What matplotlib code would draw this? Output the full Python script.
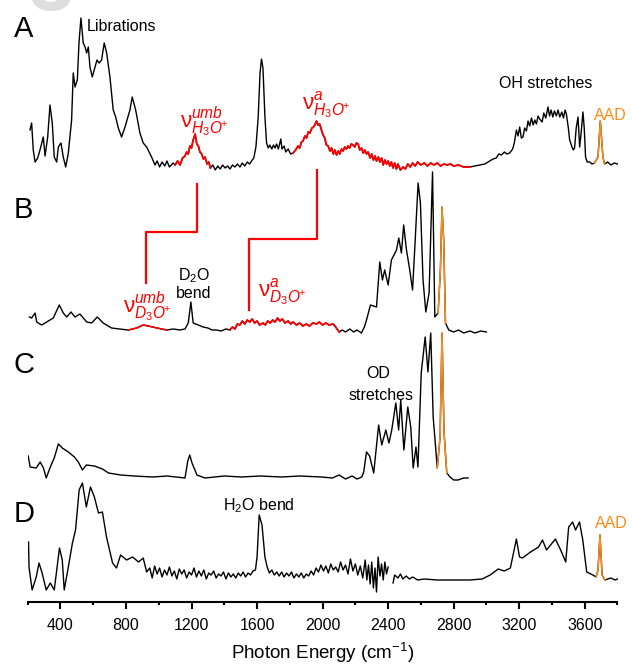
import numpy as np
import matplotlib
matplotlib.use('Agg')
import matplotlib.pyplot as plt

plt.rcParams['font.family'] = ['Liberation Sans', 'DejaVu Sans']
plt.rcParams['mathtext.fontset'] = 'custom'
plt.rcParams['mathtext.rm'] = 'Liberation Sans'
plt.rcParams['mathtext.it'] = 'Liberation Sans:italic'
plt.rcParams['mathtext.bf'] = 'Liberation Sans:bold'

# --- spectra, intensity in arbitrary units ---
a_x = [214, 224, 234, 245, 261, 275, 295, 306, 322, 336, 350, 362, 377, 387, 403, 417,
       432, 448, 468, 478, 489, 503, 513, 525, 539, 550, 560, 570, 580, 594, 611, 623,
       635, 651, 667, 682, 702, 722, 737, 753, 773, 794, 824, 838, 859, 885, 905, 926,
       956, 977, 990, 1005, 1020, 1037, 1050, 1065, 1088,
       1100, 1115, 1130, 1145, 1160, 1170, 1180, 1190, 1200, 1210, 1222, 1232, 1242, 1251,
       1262, 1272, 1282, 1295, 1305, 1315, 1330, 1345, 1360, 1375, 1390, 1405, 1420, 1435,
       1450, 1465, 1480, 1495, 1510, 1525, 1540, 1555, 1566, 1580, 1593, 1607, 1618, 1627,
       1636, 1648, 1658, 1668, 1678, 1690, 1700, 1710, 1719, 1730, 1745, 1752, 1765, 1775,
       1790, 1805, 1820,
       1835, 1850, 1860, 1871, 1880, 1892, 1902, 1912, 1922, 1935, 1945, 1955, 1963, 1972,
       1982, 1993, 2003, 2013, 2023, 2034, 2045, 2055, 2065, 2075, 2085, 2095, 2105, 2115,
       2125, 2135, 2145, 2155, 2165, 2175, 2186, 2196, 2206, 2217, 2227, 2238, 2248, 2258,
       2268, 2278, 2290, 2300, 2310, 2320, 2329, 2340, 2350, 2360, 2370, 2380, 2390, 2400,
       2410, 2420, 2430, 2440, 2450, 2460, 2475, 2491, 2505, 2520, 2535, 2550, 2565, 2580,
       2600, 2620, 2640, 2660, 2680, 2700, 2720, 2740, 2760, 2780, 2800, 2830, 2860, 2898,
       2930, 2960, 2990, 3020, 3040, 3060, 3075, 3091, 3110, 3125, 3142, 3160, 3170, 3183,
       3193, 3203, 3213, 3223, 3233, 3244, 3254, 3264, 3275, 3285, 3295, 3305, 3315, 3325,
       3340, 3350, 3362, 3376, 3385, 3395, 3405, 3415, 3427, 3437, 3448, 3460, 3470, 3480,
       3488, 3500, 3508, 3520, 3530, 3538, 3548, 3559, 3565, 3569, 3578, 3589, 3597, 3605,
       3615, 3630, 3645, 3660, 3681, 3695, 3711, 3721, 3740, 3760, 3780, 3800]
a_y = [38, 45, 18, 6, 10, 18, 31, 12, 31, 63, 45, 11, 6, 21, 25, 11,
       1, 15, 48, 95, 81, 88, 125, 150, 125, 121, 115, 121, 101, 91, 101, 108,
       105, 108, 125, 115, 91, 58, 51, 40, 31, 41, 58, 71, 58, 35, 25, 21,
       11, 3, 7, 1, 6, 2, 7, 1, 5,
       3, 7, 3, 10, 12, 16, 14, 22, 20, 28, 34, 24, 22, 16,
       14, 9, 11, 4, 6, 0, 3, -2, 2, -1, 3, 0, 2, -1,
       3, 1, 4, 1, 5, 2, 6, 4, 7, 10, 21, 51, 95, 109,
       100, 51, 25, 20, 23, 19, 23, 20, 24, 19, 29, 19, 22, 16,
       19, 14, 15,
       18, 22, 20, 26, 27, 32, 30, 36, 35, 40, 41, 44, 47, 43,
       44, 38, 33, 30, 23, 22, 17, 20, 14, 18, 13, 17, 14, 19,
       17, 21, 19, 22, 20, 24, 23, 21, 25, 24, 18, 20, 15, 18,
       14, 16, 10, 14, 8, 12, 7, 11, 6, 10, 3, 8, 4, 7,
       2, 6, 0, 5, -1, 4, -2, 1, -1, 4, 1, 5, 2, 6,
       3, 5, 2, 5, 3, 5, 2, 4, 3, 4, 2, 3, 1, 1,
       2, 3, 4, 7, 9, 10, 14, 13, 16, 14, 15, 19, 25, 38,
       32, 41, 30, 31, 40, 37, 47, 42, 50, 43, 48, 44, 52, 49,
       46, 55, 50, 61, 52, 58, 51, 57, 52, 58, 51, 56, 50, 58,
       54, 40, 28, 22, 18, 20, 40, 51, 32, 21, 35, 56, 40, 11,
       6, 6, 4, 5, 11, 47, 11, 4, 6, 3, 5, 4]

b_x = [210, 224, 245, 255, 285, 316, 356, 393, 417, 438, 464, 489, 519, 560, 590, 625,
       661, 712, 760, 814, 865, 905, 936, 990, 1048, 1090, 1129, 1160, 1180, 1196, 1210,
       1241, 1270, 1300, 1325, 1353, 1380, 1410, 1434,
       1450, 1465, 1480, 1495, 1510, 1525, 1540, 1556, 1570, 1585, 1600, 1615, 1637, 1650,
       1665, 1680, 1695, 1710, 1725, 1739, 1755, 1770, 1790, 1805, 1820, 1841, 1860, 1880,
       1900, 1920, 1940, 1963, 1980, 2000, 2020, 2040, 2064, 2080, 2101,
       2120, 2140, 2166, 2190, 2210, 2237, 2255, 2268, 2292, 2329, 2349, 2365, 2379, 2400,
       2420, 2451, 2465, 2481, 2495, 2512, 2532, 2549, 2563, 2583, 2597, 2613, 2630, 2650,
       2671, 2685, 2705, 2719, 2729, 2739, 2750, 2770, 2800, 2830, 2861, 2900, 2930, 2965,
       3000]
b_y = [13, 12, 17, 8, 5, 8, 12, 25, 17, 13, 18, 13, 16, 8, 7, 13,
       7, 2, 1, 0, 2, 5, 4, 2, 0, 1, 0, 1, 7, 28, 7,
       5, 3, 2, 0, 0, -1, 1, 0,
       3, 1, 6, 5, 9, 6, 10, 8, 11, 7, 9, 5, 7, 5,
       9, 7, 10, 8, 12, 9, 11, 7, 9, 6, 8, 5, 7, 4,
       6, 4, 7, 6, 8, 5, 7, 5, 6, 3, -2,
       0, -2, 1, -2, 0, -3, 3, 10, 25, 23, 68, 50, 60, 45,
       70, 80, 92, 77, 105, 80, 60, 40, 83, 147, 127, 50, 18, 37,
       158, 13, 17, 60, 123, 90, 7, 0, -2, 0, -3, -1, -3, -1,
       -2]

c_x = [203, 215, 252, 276, 296, 313, 338, 362, 387, 411, 448, 485, 509, 534, 558, 607,
       656, 693, 767, 850, 963, 1050, 1160, 1177, 1189, 1203, 1233, 1282, 1400, 1503,
       1620, 1748, 1860, 1993, 2060, 2100, 2140, 2180, 2210, 2239, 2251, 2268, 2287,
       2312, 2342, 2361, 2386, 2405, 2422, 2447, 2464, 2477, 2496, 2520, 2538, 2553, 2570,
       2582, 2602, 2626, 2643, 2660, 2675, 2700, 2717, 2729, 2741, 2758, 2778, 2800, 2827,
       2860, 2888]
c_y = [21, 10, 9, 15, 9, -1, 10, 19, 33, 29, 25, 20, 15, 7, 12, 11,
       8, 4, 2, 1, 0, 1, -1, 16, 22, 14, 2, -1, 1, 0,
       1, 0, 1, 0, -1, 2, -2, 1, -2, 0, 5, 25, 21,
       4, 52, 32, 47, 34, 47, 74, 47, 77, 27, 70, 50, 9, 30,
       10, 104, 140, 105, 144, 60, 9, 40, 144, 45, 4, 0, -3, -3,
       -1, -1]

d_x = [205, 208, 227, 252, 269, 288, 313, 338, 362, 394, 411, 423, 448, 473, 492, 514,
       534, 558, 583, 607, 632, 656, 681, 718, 742, 767, 804, 840, 877, 905, 926, 945,
       960, 975, 990, 1005, 1020, 1035, 1050, 1065, 1080, 1095, 1110, 1125, 1140, 1155,
       1170, 1185, 1200, 1215, 1230, 1245, 1260, 1275, 1290, 1305, 1320, 1335, 1350, 1365,
       1380, 1395, 1410, 1425, 1440, 1455, 1470, 1485, 1500, 1515, 1530, 1545, 1560, 1575,
       1590, 1600, 1613, 1630, 1648,
       1660, 1675, 1690, 1705, 1720, 1735, 1750, 1765, 1780, 1795, 1810, 1825, 1840, 1855,
       1870, 1885, 1900, 1915, 1930, 1945, 1960, 1975, 1990, 2005, 2020, 2035, 2050, 2065,
       2080, 2095, 2110, 2125, 2140, 2155, 2170, 2185, 2200, 2215, 2230, 2245, 2260, 2270,
       2280, 2290, 2300, 2310, 2320, 2329, 2339, 2350, 2360, 2370, 2380, 2390, 2400, 2415,
       2430, 2440, 2460, 2475, 2490, 2510, 2530, 2550, 2580, 2620, 2700, 2800, 2900, 2974,
       3023, 3072, 3109, 3146, 3183, 3202, 3220, 3269, 3318, 3342, 3367, 3421, 3453, 3484,
       3502, 3526, 3544, 3568, 3588, 3612, 3650, 3669, 3681, 3693, 3706, 3723, 3760, 3784,
       3800]
d_y = [38, 13, -10, 3, 17, 7, -10, -3, -10, 32, 20, -10, 13, 37, 50, 90,
       97, 73, 93, 83, 67, 68, 43, 17, 12, 25, 20, 23, 18, 22, 8, 12,
       2, 14, 6, 12, 3, 10, 5, 13, 4, 9, 1, 11, 6, 10,
       2, 8, 5, 12, 3, 9, 4, 10, 1, 7, 5, 9, 2, 6,
       4, 8, 1, 7, 3, 6, 2, 7, 4, 8, 3, 7, 5, 9,
       10, 23, 65, 55, 23,
       14, 7, 10, 5, 8, 4, 8, 3, 7, 4, 8, 2, 6, 3,
       7, 2, 6, 4, 9, 5, 12, 8, 15, 9, 14, 7, 16, 10,
       13, 8, 18, 10, 15, 6, 21, 9, 16, 5, 14, 2, 20, 0,
       15, -4, 18, -8, 12, -12, 23, 4, 16, 0, 18, 6, 13, np.nan,
       -3, 5, 2, 6, 1, 4, 1, 3, 0, 1, 0, 0, 0, 1,
       5, 11, 9, 12, 41, 23, 22, 28, 33, 40, 30, 41, 30, 18,
       53, 58, 50, 58, 40, 8, 5, 3, 10, 45, 5, 0, 2, 0,
       1]

# connectors between matching H3O+ and D3O+ bands (x in cm-1)
link_umb_x = [1233, 921]
link_a_x = [1965, 1551]

RED = '#ff0000'
ORANGE = '#ff8c1a'

fig = plt.figure(figsize=(6.32, 6.67), dpi=100)
ax = fig.add_axes([27.7 / 632, 1 - 602 / 667, (617.5 - 27.7) / 632, 602 / 667])
ax.set_xlim(200, 3800)
ax.set_ylim(602, 0)   # vertical unit = one pixel row, measured from the top


def draw(x, y, base, windows):
    x = np.array(x, dtype=float)
    yy = base - np.array(y, dtype=float)
    ax.plot(x, yy, color='k', lw=1.0)
    for lo, hi, col, lw in windows:
        m = (x >= lo) & (x <= hi)
        ax.plot(x[m], yy[m], color=col, lw=lw)


draw(a_x, a_y, 168, [(1100, 1315, RED, 1.3), (1820, 2898, RED, 1.3),
                     (3660, 3721, ORANGE, 1.1)])
draw(b_x, b_y, 330, [(814, 1048, RED, 1.1), (1434, 2101, RED, 1.3),
                     (2705, 2750, ORANGE, 1.1)])
draw(c_x, c_y, 477, [(2700, 2758, ORANGE, 1.1)])
draw(d_x, d_y, 580, [(3669, 3723, ORANGE, 1.1)])

ax.plot([link_umb_x[0], link_umb_x[0], link_umb_x[1], link_umb_x[1]],
        [184, 232, 232, 283], color=RED, lw=1.6)
ax.plot([link_a_x[0], link_a_x[0], link_a_x[1], link_a_x[1]],
        [170, 239, 239, 310], color=RED, lw=1.6)

# panel letters
for lab, y in [('A', 37), ('B', 218), ('C', 373), ('D', 522)]:
    ax.text(115, y, lab, fontsize=21, va='baseline', ha='left', clip_on=False)

ax.text(205, 10, '3', fontsize=58, fontweight='bold', color='#dededf',
        va='baseline', ha='left', clip_on=False, zorder=0)

fs = 11.5
ax.text(562, 31, 'Librations', fontsize=fs, va='baseline')
ax.text(3075, 88, 'OH stretches', fontsize=fs, va='baseline')
ax.text(3654, 120, 'AAD', fontsize=fs, va='baseline', color=ORANGE)
ax.text(1215, 280, r'D$_2$O', fontsize=fs, va='baseline', ha='center')
ax.text(1215, 298, 'bend', fontsize=fs, va='baseline', ha='center')
ax.text(2339, 378, 'OD', fontsize=fs, va='baseline', ha='center')
ax.text(2357, 400, 'stretches', fontsize=fs, va='baseline', ha='center')
ax.text(1392, 510, r'H$_2$O bend', fontsize=fs, va='baseline')
ax.text(3661, 528, 'AAD', fontsize=fs, va='baseline', color=ORANGE)

nfs = 16
ax.text(1129, 128, r'$\mathrm{\nu}^{umb}_{H_3O\!^+}$', fontsize=nfs, color=RED, va='baseline')
ax.text(1873, 110, r'$\mathrm{\nu}^{a}_{H_3O\!^+}$', fontsize=nfs, color=RED, va='baseline')
ax.text(780, 313, r'$\mathrm{\nu}^{umb}_{D_3O\!^+}$', fontsize=nfs, color=RED, va='baseline')
ax.text(1606, 297, r'$\mathrm{\nu}^{a}_{D_3O\!^+}$', fontsize=nfs, color=RED, va='baseline')

for s in ['left', 'right', 'top']:
    ax.spines[s].set_visible(False)
ax.spines['bottom'].set_linewidth(1.5)
ax.set_yticks([])
ax.set_xticks(np.arange(400, 3601, 400))
ax.set_xticks(np.arange(200, 3801, 400), minor=True)
ax.tick_params(axis='x', which='major', length=5, width=1.5, pad=6.5, labelsize=11.5)
ax.tick_params(axis='x', which='minor', length=2.5, width=1.5)
ax.set_xlabel('Photon Energy (cm$^{-1}$)', fontsize=13.5, labelpad=6)

fig.savefig('out.png', dpi=100)
